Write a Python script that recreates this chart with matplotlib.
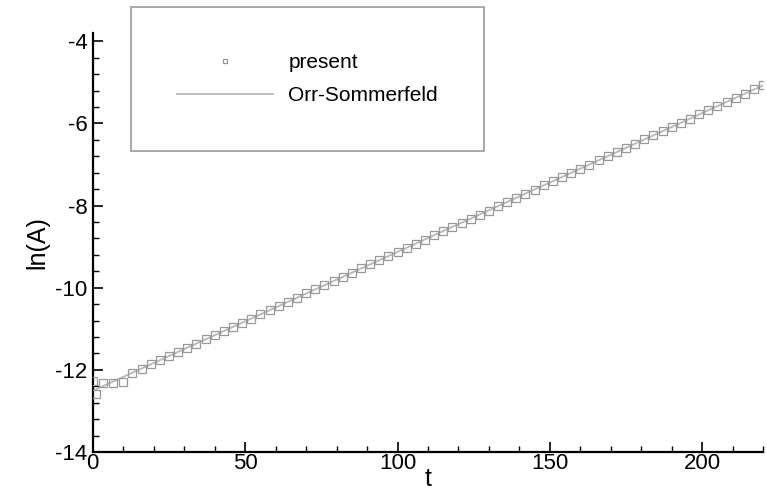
import matplotlib
matplotlib.use("Agg")
import matplotlib.pyplot as plt
import numpy as np
from matplotlib.ticker import MultipleLocator

plt.rcParams['font.family'] = ['Liberation Sans', 'DejaVu Sans']
plt.rcParams['axes.unicode_minus'] = False

# "present" simulation, ln of amplitude
t_present = [0, 1, 3.5, 6.5, 10,
             13, 16, 19, 22, 25, 28, 31, 34, 37, 40, 43, 46, 49, 52, 55, 58,
             61, 64, 67, 70, 73, 76, 79, 82, 85, 88, 91, 94, 97, 100, 103, 106,
             109, 112, 115, 118, 121, 124, 127, 130, 133, 136, 139, 142, 145,
             148, 151, 154, 157, 160, 163, 166, 169, 172, 175, 178, 181, 184,
             187, 190, 193, 196, 199, 202, 205, 208, 211, 214, 217, 220]
lnA_present = [-12.28, -12.60, -12.31, -12.33, -12.30,
               -12.07, -11.97, -11.87, -11.77, -11.66, -11.56, -11.46, -11.36,
               -11.26, -11.16, -11.06, -10.95, -10.85, -10.75, -10.65, -10.55,
               -10.45, -10.35, -10.24, -10.14, -10.04, -9.94, -9.84, -9.74,
               -9.64, -9.53, -9.43, -9.33, -9.23, -9.13, -9.03, -8.93, -8.83,
               -8.72, -8.62, -8.52, -8.42, -8.32, -8.22, -8.12, -8.01, -7.91,
               -7.81, -7.71, -7.61, -7.51, -7.41, -7.30, -7.20, -7.10, -7.00,
               -6.90, -6.80, -6.70, -6.59, -6.49, -6.39, -6.29, -6.19, -6.09,
               -5.99, -5.88, -5.78, -5.68, -5.58, -5.48, -5.38, -5.28, -5.17,
               -5.07]

# Orr-Sommerfeld linear growth (end points)
t_os = [0, 220]
lnA_os = [-12.51, -5.07]

fig = plt.figure(figsize=(7.67, 4.95), dpi=100)
ax = fig.add_axes([0.121, 0.087, 0.874, 0.846])

ax.plot(t_os, lnA_os, color='#b8b8b8', lw=1.3, label='Orr-Sommerfeld', zorder=2)
ax.plot(t_present, lnA_present, 's', ms=6.2, mfc='none', mec='#999999', mew=0.9,
        label='present', zorder=3)

ax.set_xlim(0, 220)
ax.set_ylim(-14, -3.8)
ax.xaxis.set_major_locator(MultipleLocator(50))
ax.xaxis.set_minor_locator(MultipleLocator(10))
ax.yaxis.set_major_locator(MultipleLocator(2))
ax.yaxis.set_minor_locator(MultipleLocator(0.4))

for s in ['top', 'right']:
    ax.spines[s].set_visible(False)
for s in ['left', 'bottom']:
    ax.spines[s].set_linewidth(1.6)

ax.tick_params(which='major', direction='in', length=7.5, width=1.2,
               labelsize=16, pad=1)
ax.tick_params(axis='y', which='major', pad=4)
ax.tick_params(which='minor', direction='in', length=4, width=1.0)

ax.set_xlabel('t', fontsize=18, labelpad=-5)
ax.set_ylabel('ln(A)', fontsize=18, labelpad=4)

handles, labels = ax.get_legend_handles_labels()
leg = ax.legend(handles[::-1], labels[::-1], loc='upper left',
                bbox_to_anchor=(131 / 767, 1 - 7 / 495),
                bbox_transform=fig.transFigure, borderaxespad=0,
                fontsize=15, numpoints=1, markerscale=0.55, fancybox=False,
                framealpha=1, edgecolor='#a8a8a8', borderpad=2.2,
                handlelength=4.6, handletextpad=0.75, labelspacing=0.7)
leg.get_frame().set_linewidth(1.4)

fig.savefig('out.png', dpi=100)
